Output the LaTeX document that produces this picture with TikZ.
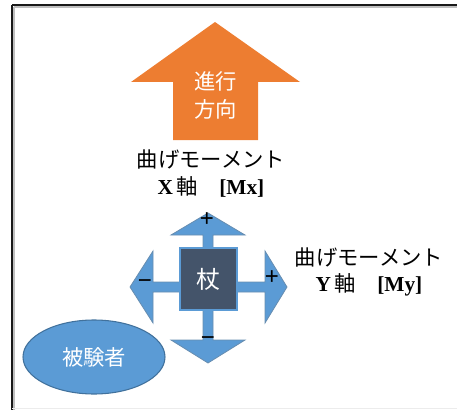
\documentclass[tikz,border=0pt]{standalone}
\usepackage{fontspec}
\usetikzlibrary{shapes.geometric}
\setmainfont{Liberation Serif}
\newfontfamily\cjk{Noto Sans CJK JP}
\newfontfamily\sfsym{Liberation Sans}
\definecolor{orangeA}{HTML}{ED7D31}
\definecolor{blueA}{HTML}{5B9BD5}
\definecolor{blueB}{HTML}{41719C}
\definecolor{slateA}{HTML}{44546A}
\begin{document}
\begin{tikzpicture}[x=0.75pt,y=-0.75pt,
  lbl/.style={align=center,font=\fontsize{16}{20}\selectfont},
  inlbl/.style={text=white,font=\cjk\fontsize{16}{21}\selectfont,align=center},
  sign/.style={text=black,font=\sfsym\fontsize{18}{18}\selectfont,inner sep=0pt}]
\useasboundingbox (0,0) rectangle (457,410);
% frame
\draw[gray!50,line width=1.2pt] (14,7) -- (457,7);
\draw[gray!50,line width=1.2pt] (14,7) -- (14,410);
\draw[black!90,line width=1.3pt] (12,5) -- (457,5);
\draw[black!90,line width=1.3pt] (12,5) -- (12,410);
\draw[gray!15,line width=1pt] (12,408.5) -- (457,408.5);
% orange arrow
\fill[orangeA] (215,22) -- (300,82) -- (258,82) -- (258,140) -- (173,140) -- (173,82) -- (131,82) -- cycle;
\node[inlbl] (dir) at (215.5,95) {進行\\方向};
% labels
\node[lbl] (mx) at (211,173.5) {{\cjk 曲げモーメント}\\\textbf{X}\,{\cjk 軸　}\textbf{[Mx]}};
\node[lbl] (my) at (369,272) {{\cjk 曲げモーメント}\\\textbf{Y}\,{\cjk 軸　}\textbf{[My]}};
% four-way arrow
\filldraw[fill=blueA,draw=blueB!80,line width=0.6pt]
  (208,213) -- (245,235) -- (213,235) -- (213,282) -- (265,282) -- (265,251)
  -- (287,287) -- (265,323) -- (265,292) -- (213,292) -- (213,340) -- (245,340)
  -- (208,363) -- (171,340) -- (203,340) -- (203,292) -- (153,292) -- (153,323)
  -- (130,287) -- (153,251) -- (153,282) -- (203,282) -- (203,235) -- (171,235) -- cycle;
\node[draw=blueA,fill=slateA,line width=0.8pt,minimum width=57*0.75pt,minimum height=62*0.75pt,inner sep=0pt,
  text=white,font=\cjk\fontsize{18}{18}\selectfont] (cane) at (208.5,279) {杖};
\node[sign] (ptop) at (207,220) {+};
\node[sign] (pright) at (272,278) {+};
\node[sign] (mleft) at (145,284) {−};
\node[sign] (mbot) at (208,341) {−};
% subject
\node[ellipse,draw=blueB,fill=blueA,line width=0.8pt,minimum width=142*0.75pt,minimum height=74*0.75pt,inner sep=0pt,
  text=white,font=\cjk\fontsize{16}{16}\selectfont] (subj) at (94,357) {被験者};
\end{tikzpicture}
\end{document}
